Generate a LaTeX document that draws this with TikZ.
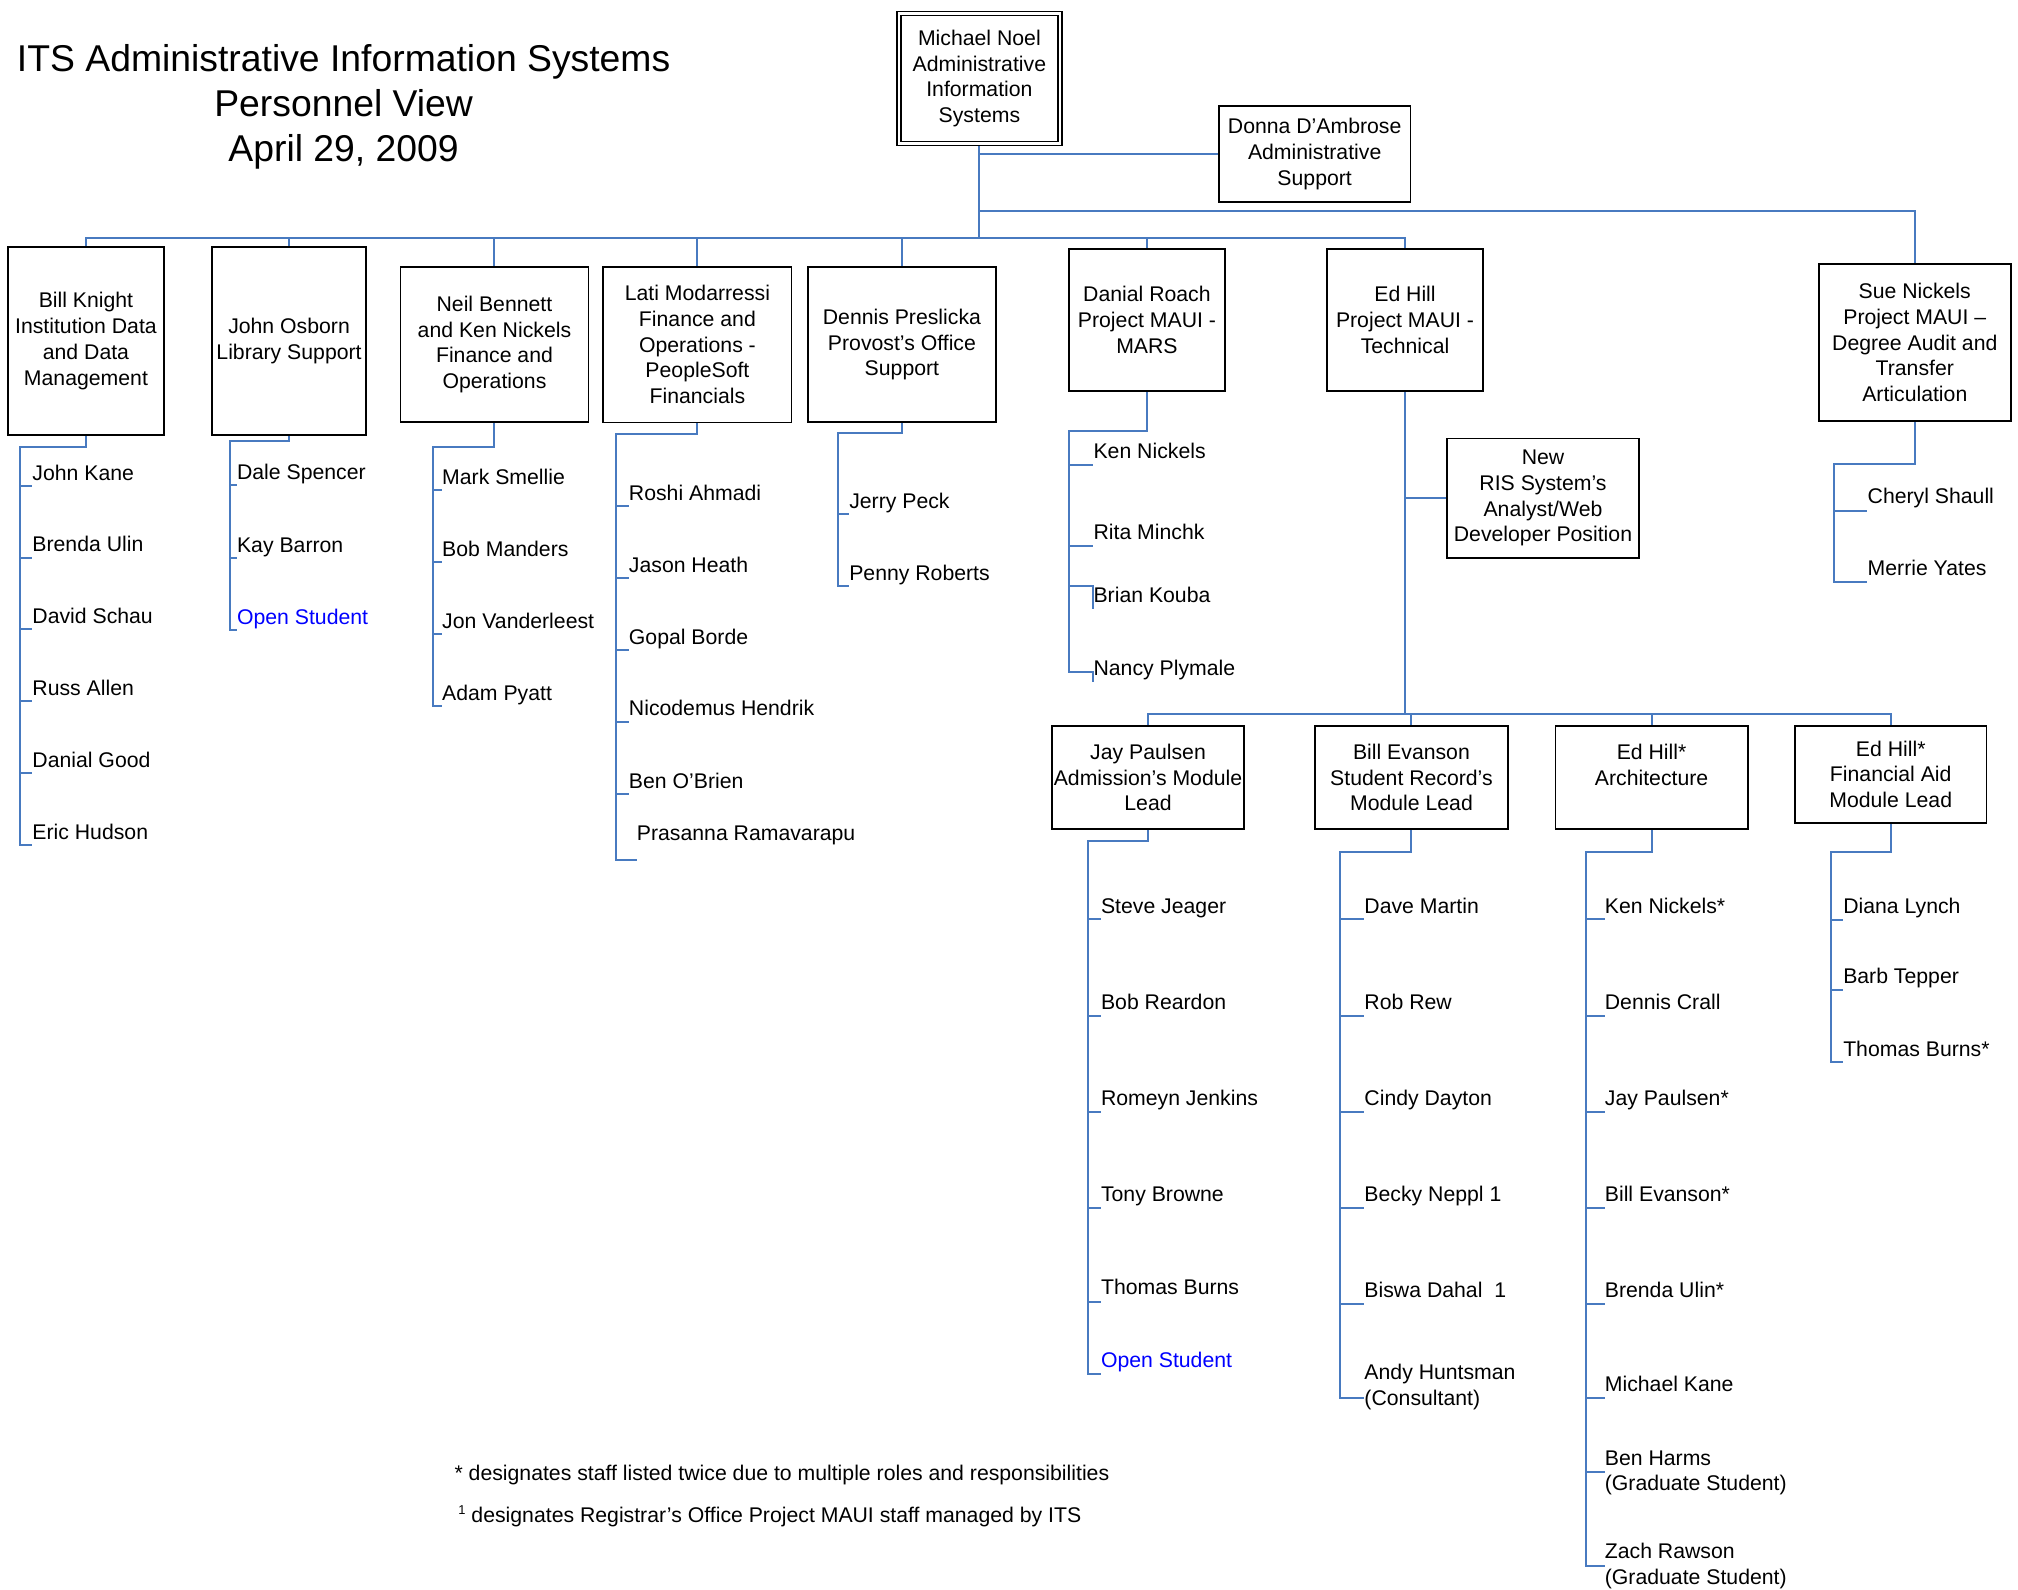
\documentclass[tikz,border=0pt]{standalone}
\usepackage{fontspec}
\setmainfont{Liberation Sans}
\usetikzlibrary{calc,backgrounds}
\definecolor{linec}{RGB}{72,122,192}
\definecolor{openblue}{RGB}{0,0,255}
\newcommand\fs{\fontsize{16.5}{20}\selectfont}
\newcommand\twol[2]{\begin{tabular}[t]{@{}l@{}}#1\\#2\end{tabular}}
\newcommand\pers[5]{\node[nm] (#1) at (#2,#3) {#5};
  \coordinate (#1-t) at ($(#1.base west)+(0,#4)$);}
\begin{document}
\begin{tikzpicture}[x=1pt,y=-1pt,
  box/.style={draw=black, line width=1.4pt, inner sep=0pt, align=center, font=\fs},
  conn/.style={draw=linec, line width=1.6pt},
  nm/.style={inner sep=0pt, anchor=base west, font=\fs}]
\useasboundingbox (0,0) rectangle (1568,1235);

% title
\node[align=center, font=\fontsize{29}{34.6}\selectfont] (title) at (267,83)
  {ITS Administrative Information Systems\\Personnel View\\April 29, 2009};

% top boxes
\node[box, double, double distance=1.8pt, line width=1.2pt, minimum width=125pt, minimum height=101pt] (mn) at (761,61)
  {Michael Noel\\Administrative\\Information\\Systems};
\node[box, minimum width=149pt, minimum height=74.5pt] (dd) at (1021.5,119.8)
  {Donna D’Ambrose\\Administrative\\Support};

% level 1
\node[box, minimum width=121.7pt, minimum height=146.3pt] (bk) at (66.8,264.9)
  {Bill Knight\\Institution Data\\and Data\\Management};
\node[box, minimum width=119.6pt, minimum height=146.3pt] (jo) at (224.6,264.9)
  {John Osborn\\Library Support};
\node[box, minimum width=146pt, minimum height=120.5pt] (nb) at (384.2,267.7)
  {Neil Bennett\\and Ken Nickels\\Finance and\\Operations};
\node[box, minimum width=146.3pt, minimum height=121pt] (lm) at (541.9,267.8)
  {Lati Modarressi\\Finance and\\Operations -\\PeopleSoft\\Financials};
\node[box, minimum width=146.4pt, minimum height=120.7pt] (dp) at (700.8,267.7)
  {Dennis Preslicka\\Provost’s Office\\Support};
\node[box, minimum width=121.3pt, minimum height=110.3pt] (dr) at (891.2,248.6)
  {Danial Roach\\Project MAUI -\\MARS};
\node[box, minimum width=121.4pt, minimum height=110.3pt] (eh) at (1091.7,248.6)
  {Ed Hill\\Project MAUI -\\Technical};
\node[box, minimum width=149.2pt, minimum height=121.5pt] (sn) at (1487.8,266.1)
  {Sue Nickels\\Project MAUI –\\Degree Audit and\\Transfer\\Articulation};
\node[box, minimum width=149.2pt, minimum height=92.7pt] (ris) at (1198.9,387)
  {New\\RIS System’s\\Analyst/Web\\Developer Position};

% level 2
\node[box, minimum width=149.1pt, minimum height=80.2pt] (jp) at (892,604.1)
  {Jay Paulsen\\Admission’s Module\\Lead};
\node[box, minimum width=149.4pt, minimum height=80.2pt] (be) at (1096.7,604.1)
  {Bill Evanson\\Student Record’s\\Module Lead};
\node[box, minimum width=149.4pt, minimum height=80.2pt] (ea) at (1283.3,604.1)
  {Ed Hill*\\Architecture\\\mbox{}};
\node[box, minimum width=148.8pt, minimum height=75.2pt] (ef) at (1469.1,601.6)
  {Ed Hill*\\Financial Aid\\Module Lead};

% people
\pers{bk1}{25}{373.1}{4.5}{John Kane}
\pers{bk2}{25}{428.8}{4.5}{Brenda Ulin}
\pers{bk3}{25}{484.5}{4.5}{David Schau}
\pers{bk4}{25}{540.3}{4.5}{Russ Allen}
\pers{bk5}{25}{596.1}{4.5}{Danial Good}
\pers{bk6}{25}{651.9}{4.5}{Eric Hudson}

\pers{jo1}{184}{372.2}{4.5}{Dale Spencer}
\pers{jo2}{184}{429.3}{4.5}{Kay Barron}
\pers{jo3}{184}{485}{4.5}{\textcolor{openblue}{Open Student}}

\pers{nb1}{343.4}{376.2}{4.5}{Mark Smellie}
\pers{nb2}{343.4}{432.2}{4.5}{Bob Manders}
\pers{nb3}{343.4}{488.1}{4.5}{Jon Vanderleest}
\pers{nb4}{343.4}{544}{4.5}{Adam Pyatt}

\pers{lm1}{488.5}{388.5}{4.5}{Roshi Ahmadi}
\pers{lm2}{488.5}{444.5}{4.5}{Jason Heath}
\pers{lm3}{488.5}{500.5}{4.5}{Gopal Borde}
\pers{lm4}{488.5}{555.6}{5.1}{Nicodemus Hendrik}
\pers{lm5}{488.5}{612.5}{4.5}{Ben O’Brien}
\pers{lm6}{494.7}{652.7}{15.5}{Prasanna Ramavarapu}

\pers{dp1}{659.7}{395.1}{4.5}{Jerry Peck}
\pers{dp2}{659.7}{450.8}{4.5}{Penny Roberts}

\pers{dr1}{849.5}{356.6}{4.7}{Ken Nickels}
\pers{dr2}{849.5}{418.8}{5.4}{Rita Minchk}
\pers{dr3}{849.5}{468.3}{-13.3}{Brian Kouba}
\pers{dr4}{849.5}{524.5}{-2.6}{Nancy Plymale}

\pers{sn1}{1451}{391.6}{5.2}{Cheryl Shaull}
\pers{sn2}{1451}{447.5}{5}{Merrie Yates}

\pers{jp1}{855.3}{709.5}{4.8}{Steve Jeager}
\pers{jp2}{855.3}{784.4}{4.8}{Bob Reardon}
\pers{jp3}{855.3}{859}{4.8}{Romeyn Jenkins}
\pers{jp4}{855.3}{933.6}{4.8}{Tony Browne}
\pers{jp5}{855.3}{1006.2}{5.2}{Thomas Burns}
\pers{jp6}{855.3}{1062.4}{5.2}{\textcolor{openblue}{Open Student}}

\pers{be1}{1060}{709.5}{4.8}{Dave Martin}
\pers{be2}{1060}{784.4}{4.8}{Rob Rew}
\pers{be3}{1060}{859}{4.8}{Cindy Dayton}
\pers{be4}{1060}{933.6}{4.8}{Becky Neppl 1}
\pers{be5}{1060}{1008.2}{4.8}{Biswa Dahal\ \ 1}
\pers{be6}{1060}{1071.7}{14.3}{\twol{Andy Huntsman}{(Consultant)}}

\pers{ea1}{1246.8}{709.5}{4.8}{Ken Nickels*}
\pers{ea2}{1246.8}{784.4}{4.8}{Dennis Crall}
\pers{ea3}{1246.8}{859}{4.8}{Jay Paulsen*}
\pers{ea4}{1246.8}{933.6}{4.8}{Bill Evanson*}
\pers{ea5}{1246.8}{1008.2}{4.8}{Brenda Ulin*}
\pers{ea6}{1246.8}{1081.2}{4.8}{Michael Kane}
\pers{ea7}{1246.8}{1138.3}{5.2}{\twol{Ben Harms}{(Graduate Student)}}
\pers{ea8}{1246.8}{1210.8}{5.7}{\twol{Zach Rawson}{(Graduate Student)}}

\pers{ef1}{1432}{710}{4.8}{Diana Lynch}
\pers{ef2}{1432}{764.4}{4.8}{Barb Tepper}
\pers{ef3}{1432}{820.6}{4.8}{Thomas Burns*}

% footnotes
\node[nm] (fn1) at (353,1150) {* designates staff listed twice due to multiple roles and responsibilities};
\node[nm] (fn2) at (356,1183) {\raisebox{6.5pt}{\fontsize{10}{10}\selectfont 1} designates Registrar’s Office Project MAUI staff managed by ITS};

% connectors
\begin{scope}[on background layer]
\coordinate (bus) at (761,185);
\coordinate (sj) at (761,163.7);
\draw[conn] (mn.south) -- (bus);
\foreach \b in {bk,jo,nb,lm,dp,dr,eh} \draw[conn] (\b.north) |- (bus);
\draw[conn] (mn.south |- dd.west) -- (dd.west);
\draw[conn] (sj) -| (sn.north);

\coordinate (sb) at (1091.7,555);
\draw[conn] (eh.south) -- (sb);
\draw[conn] (eh.south |- ris.west) -- (ris.west);
\foreach \b in {jp,be,ea,ef} \draw[conn] (\b.north) |- (sb);

% lists
\coordinate (bkv) at (15.6,347);
\draw[conn] (bk.south) |- (bkv) -- (bkv |- bk6-t) -- (bk6-t);
\foreach \n in {bk1,bk2,bk3,bk4,bk5} \draw[conn] (bkv |- \n-t) -- (\n-t);

\coordinate (jov) at (178.7,342.4);
\draw[conn] (jo.south) |- (jov) -- (jov |- jo3-t) -- (jo3-t);
\foreach \n in {jo1,jo2} \draw[conn] (jov |- \n-t) -- (\n-t);

\coordinate (nbv) at (336.5,347);
\draw[conn] (nb.south) |- (nbv) -- (nbv |- nb4-t) -- (nb4-t);
\foreach \n in {nb1,nb2,nb3} \draw[conn] (nbv |- \n-t) -- (\n-t);

\coordinate (lmv) at (478.3,337.2);
\draw[conn] (lm.south) |- (lmv) -- (lmv |- lm6-t) -- (lm6-t);
\foreach \n in {lm1,lm2,lm3,lm4,lm5} \draw[conn] (lmv |- \n-t) -- (\n-t);

\coordinate (dpv) at (650.8,336.5);
\draw[conn] (dp.south) |- (dpv) -- (dpv |- dp2-t) -- (dp2-t);
\draw[conn] (dpv |- dp1-t) -- (dp1-t);

\coordinate (drv) at (830.6,334.6);
\draw[conn] (dr.south) |- (drv) -- (drv |- dr4-t) -- (dr4-t) -- ++(0,7.7);
\foreach \n in {dr1,dr2} \draw[conn] (drv |- \n-t) -- (\n-t);
\draw[conn] (drv |- dr3-t) -- (dr3-t) -- ++(0,18);

\coordinate (snv) at (1425,360.5);
\draw[conn] (sn.south) |- (snv) -- (snv |- sn2-t) -- (sn2-t);
\draw[conn] (snv |- sn1-t) -- (sn1-t);

\coordinate (jpv) at (845.3,653.5);
\draw[conn] (jp.south) |- (jpv) -- (jpv |- jp6-t) -- (jp6-t);
\foreach \n in {jp1,jp2,jp3,jp4,jp5} \draw[conn] (jpv |- \n-t) -- (\n-t);

\coordinate (bev) at (1041.2,662);
\draw[conn] (be.south) |- (bev) -- (bev |- be6-t) -- (be6-t);
\foreach \n in {be1,be2,be3,be4,be5} \draw[conn] (bev |- \n-t) -- (\n-t);

\coordinate (eav) at (1232.2,662);
\draw[conn] (ea.south) |- (eav) -- (eav |- ea8-t) -- (ea8-t);
\foreach \n in {ea1,ea2,ea3,ea4,ea5,ea6,ea7} \draw[conn] (eav |- \n-t) -- (\n-t);

\coordinate (efv) at (1423,662);
\draw[conn] (ef.south) |- (efv) -- (efv |- ef3-t) -- (ef3-t);
\foreach \n in {ef1,ef2} \draw[conn] (efv |- \n-t) -- (\n-t);
\end{scope}
\end{tikzpicture}
\end{document}
